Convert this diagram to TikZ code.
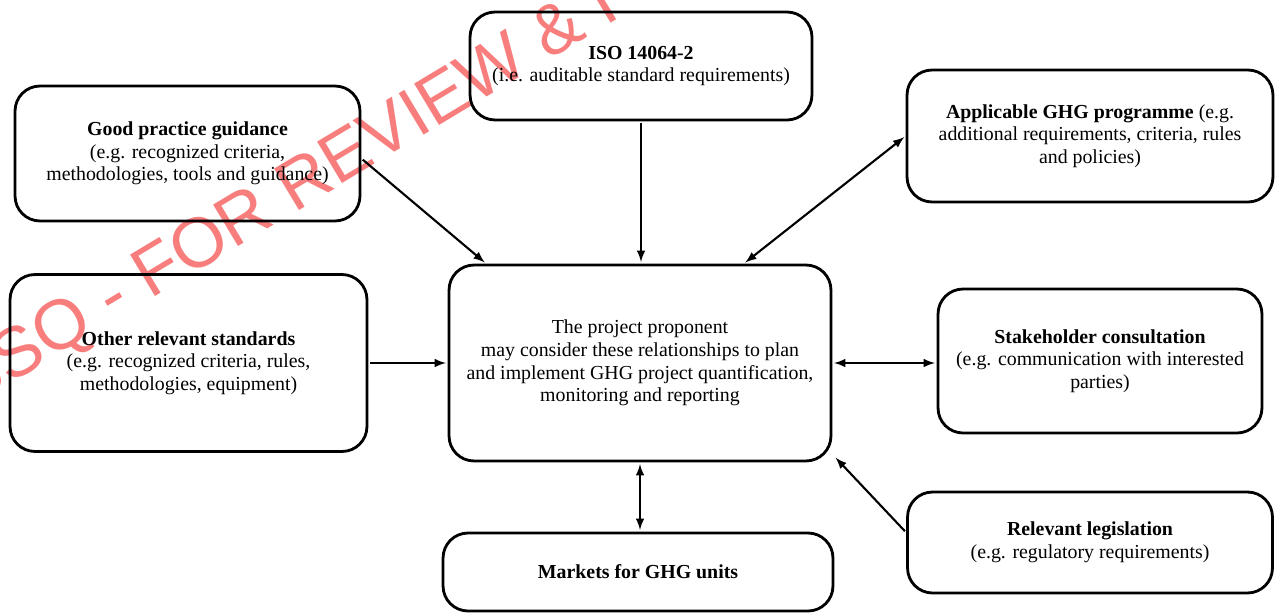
\documentclass[tikz,border=0pt]{standalone}
\usepackage{fontspec}
\setmainfont{Liberation Serif}
\setsansfont{Liberation Sans}
\usetikzlibrary{calc}

\begin{document}
\begin{tikzpicture}[x=0.02cm,y=-0.02cm,>=latex,
      box node/.style={draw,line width=1.6pt,rounded corners=0.5cm,align=center,
        inner sep=2pt,font=\fontsize{11.3}{12.9}\selectfont},
      link/.style={line width=1.2pt,shorten >=1pt,shorten <=1pt},
      stamp/.style={text={rgb,255:red,248;green,125;blue,125},inner sep=0pt,
        font=\sffamily\fontsize{40}{40}\selectfont,rotate=31}]

      \useasboundingbox (0,0) rectangle (1277,612);
      \clip (0,0) rectangle (1277,612);

      \node[stamp, anchor=west] (mark) at (-40,393) {BSQ - FOR REVIEW \& I};

      \node[box node, minimum width=6.9cm, minimum height=2.7cm] (good) at (187.5,153.5)
        {\textbf{Good practice guidance}\\(e.g. recognized criteria,\\methodologies, tools and guidance)};
      \node[box node, minimum width=6.84cm, minimum height=2.16cm] (iso) at (641,66)
        {\textbf{ISO 14064-2}\\(i.e. auditable standard requirements)};
      \node[box node, minimum width=7.32cm, minimum height=2.64cm] (prog) at (1090,136)
        {\textbf{Applicable GHG programme} (e.g.\\additional requirements, criteria, rules\\and policies)};
      \node[box node, minimum width=7.14cm, minimum height=3.54cm] (other) at (188.5,363)
        {\textbf{Other relevant standards}\\(e.g. recognized criteria, rules,\\methodologies, equipment)};
      \node[box node, minimum width=7.64cm, minimum height=3.92cm] (proj) at (640,363)
        {The project proponent\\may consider these relationships to plan\\and implement GHG project quantification,\\monitoring and reporting};
      \node[box node, minimum width=6.48cm, minimum height=2.88cm] (stake) at (1100,361)
        {\textbf{Stakeholder consultation}\\(e.g. communication with interested\\parties)};
      \node[box node, minimum width=7.3cm, minimum height=2.02cm] (legis) at (1090,542.5)
        {\textbf{Relevant legislation}\\(e.g. regulatory requirements)};
      \node[box node, minimum width=7.8cm, minimum height=1.56cm] (market) at (638,572)
        {\textbf{Markets for GHG units}};

      \path[link]
        ($(good.east)+(0,5)$) edge[->] ($(proj.north west)!0.1!(proj.north east)$)
        (iso.south) edge[->] (iso.south |- proj.north)
        (prog.west) edge[<->] ($(proj.north west)!0.77!(proj.north east)$)
        (other.east) edge[->] (proj.west)
        (proj.east) edge[<->] (proj.east -| stake.west)
        ($(legis.west)+(0,-10)$) edge[->] ($(proj.south east)+(2,-6)$)
        (proj.south) edge[<->] (proj.south |- market.north);
    \end{tikzpicture}
\end{document}
